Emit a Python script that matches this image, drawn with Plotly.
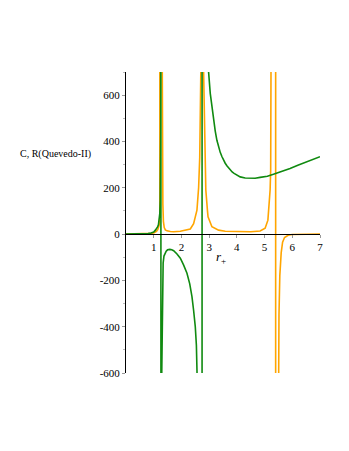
import plotly.graph_objects as go

# heat capacity C (green), huge values mark the poles
green_r = [0, 0.3, 0.6, 0.8, 0.9, 1.0, 1.06, 1.1, 1.14, 1.17, 1.2, 1.22, 1.235, 1.245, 1.252, 1.258,
           1.262, 1.275, 1.29, 1.30, 1.31, 1.32, 1.34, 1.37, 1.42, 1.45, 1.5, 1.58, 1.65, 1.72, 1.84,
           1.96, 2.08, 2.2, 2.3, 2.38, 2.44, 2.5, 2.54, 2.58, 2.65, 2.7, 2.742,
           2.748, 2.8, 2.85, 2.9, 2.98, 3.04, 3.1, 3.16, 3.22, 3.28, 3.34, 3.4, 3.46, 3.52, 3.58,
           3.64, 3.7, 3.76, 3.83, 3.9, 4.0, 4.12, 4.3, 4.48, 4.66, 4.84, 5.1, 5.32, 5.6, 5.92,
           6.2, 6.52, 6.8, 7.0]
green_c = [0, 0, 0.5, 2, 5, 9, 17, 22, 31, 40, 60, 90, 145, 240, 450, 1800,
           -1800, -900, -600, -400, -260, -190, -125, -95, -78, -74, -68, -66, -68, -72, -86,
           -104, -134, -169, -215, -270, -330, -400, -480, -600, -1050, -2200, -30000,
           30000, 2600, 1400, 960, 700, 608, 545, 491, 445, 405, 377, 353, 335, 319, 306,
           295, 285, 276, 268, 262, 254, 247, 242, 240, 241, 245, 250, 258, 269, 283,
           297, 312, 325, 334]

# Ricci scalar R (Quevedo-II, orange)
orange_r = [0, 0.4, 0.7, 0.9, 1.0, 1.1, 1.15, 1.2, 1.22, 1.24, 1.25, 1.265, 1.28, 1.29, 1.31,
            1.33, 1.35, 1.38, 1.42, 1.48, 1.6, 1.72, 1.96, 2.2, 2.32, 2.44, 2.56, 2.62, 2.66,
            2.7, 2.73, 2.75, 2.77, 2.8, 2.84, 2.88, 2.94, 2.96, 3.1, 3.34, 3.58, 4.0, 4.5, 4.84,
            5.02, 5.12, 5.16, 5.2, 5.22, 5.26, 5.3, 5.35, 5.398,
            5.402, 5.45, 5.5, 5.52, 5.55, 5.6, 5.65, 5.72, 5.85, 6.0, 6.5, 7.0]
orange_R = [0, 0, 1, 3, 5, 12, 20, 40, 70, 250, 1000, 20000, 1500, 1000, 500,
            130, 55, 28, 18, 14, 11, 10, 12, 17, 22, 45, 103, 200, 330,
            700, 3000, 20000, 3000, 700, 330, 190, 100, 75, 32, 17, 12, 10, 10, 13,
            25, 60, 132, 190, 276, 700, 1500, 5000, 100000,
            -100000, -2000, -600, -350, -180, -80, -35, -15, -5, -2, -0.5, -0.2]

y_ticks = [-600, -400, -200, 0, 200, 400, 600]
y_tick_text = ['-600', '-400', '-200', '0', '200', '400', '600']
x_ticks = [1, 2, 3, 4, 5, 6, 7]

serif = 'Liberation Serif'
tick_font = dict(family=serif, size=11, color='black')

fig = go.Figure()

fig.add_trace(
    go.Scatter(
        x=orange_r,
        y=orange_R,
        mode='lines',
        line=dict(color='#FFA500', width=1.6),
        showlegend=False
    )
)

fig.add_trace(
    go.Scatter(
        x=green_r,
        y=green_c,
        mode='lines',
        line=dict(color='#108a10', width=1.6),
        showlegend=False
    )
)

fig.add_annotation(
    x=-0.17, xref='paper', xanchor='right',
    y=345, yref='y',
    text='C, R(Quevedo-II)',
    showarrow=False,
    font=dict(family=serif, size=10, color='black')
)

fig.add_annotation(
    x=3.43, y=-103,
    text='<i>r</i><sub>+</sub>',
    showarrow=False,
    font=dict(family=serif, size=13, color='black')
)

# page body adds an 8px margin, so the figure is sized and offset for it
fig.update_layout(
    width=333,
    height=435,
    margin=dict(l=118, r=21, t=64, b=70),
    plot_bgcolor='white',
    paper_bgcolor='white',
    font=dict(family=serif, size=11, color='black'),
    xaxis=dict(
        range=[0, 7],
        tickvals=x_ticks,
        tickfont=tick_font,
        anchor='free',
        position=600 / 1300,
        showline=True,
        linecolor='black',
        linewidth=1,
        ticks='outside',
        ticklen=3,
        tickcolor='#999',
        showgrid=False,
        zeroline=False,
    ),
    yaxis=dict(
        range=[-600, 700],
        tickvals=y_ticks,
        ticktext=y_tick_text,
        tickfont=tick_font,
        showline=True,
        linecolor='black',
        linewidth=1,
        ticks='outside',
        ticklen=3,
        tickcolor='#999',
        minor=dict(dtick=100, ticks='outside', ticklen=2, tickcolor='#bbb'),
        showgrid=False,
        zeroline=False,
    ),
)

fig.write_html('out.html')
